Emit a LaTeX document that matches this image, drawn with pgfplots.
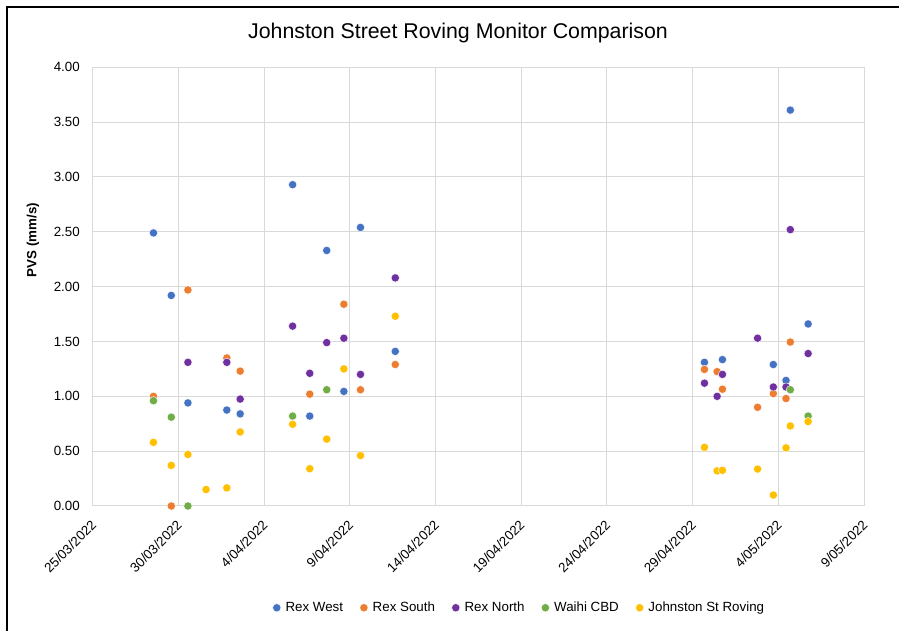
\documentclass[border=0pt]{standalone}
\usepackage{fontspec}
\setmainfont{Liberation Sans}
\usepackage{pgfplots}
\pgfplotsset{compat=1.18}
\definecolor{cblue}{HTML}{4472C4}
\definecolor{corange}{HTML}{ED7D31}
\definecolor{cpurple}{HTML}{7030A0}
\definecolor{cgreen}{HTML}{70AD47}
\definecolor{cyellow}{HTML}{FFC000}
\definecolor{gridc}{HTML}{D9D9D9}
\begin{document}
\begin{tikzpicture}
\useasboundingbox (0pt,0pt) rectangle (674.25pt,473.25pt);
\draw[line width=1.8pt] (5.25pt,-5pt) -- (5.25pt,468pt) -- (690pt,468pt);
\node[font=\fontsize{16}{19}\selectfont] at (343.5pt,448.5pt) {Johnston Street Roving Monitor Comparison};
\node[font=\fontsize{10}{12}\selectfont\bfseries, rotate=90] at (24.75pt,293.25pt) {PVS (mm/s)};
\begin{axis}[
  at={(69.6pt,93.75pt)}, anchor=south west,
  scale only axis, width=578.4pt, height=329pt,
  xmin=0, xmax=45, ymin=0, ymax=4,
  xtick={0,5,...,45},
  xticklabels={25/03/2022,30/03/2022,4/04/2022,9/04/2022,14/04/2022,19/04/2022,24/04/2022,29/04/2022,4/05/2022,9/05/2022},
  ytick={0,0.5,...,4},
  yticklabel style={/pgf/number format/fixed,/pgf/number format/precision=2,/pgf/number format/fixed zerofill, anchor=east, inner sep=0pt, xshift=-9.6pt},
  /pgf/number format/assume math mode=true,
  xticklabel style={inner sep=0pt, xshift=0.8pt, yshift=-12.5pt, rotate=45, anchor=east},
  tick label style={font=\fontsize{10}{12}\selectfont},
  major tick length=0pt,
  grid=major, major grid style={draw=gridc, line width=0.75pt},
  axis line style={draw=gridc, line width=0.75pt},
  clip=false,
  legend columns=5,
  legend style={draw=none, fill=none, font=\fontsize{10}{12}\selectfont, at={(0.554,-0.232)}, anchor=center,
    /tikz/every odd column/.style={column sep=1pt},
    /tikz/every even column/.style={column sep=10pt},
    nodes={inner sep=2.5pt}},
  legend image code/.code={\draw[mark repeat=2,mark phase=2,#1] plot coordinates {(0pt,0pt) (3pt,0pt) (6pt,0pt)};},
  every axis plot/.append style={only marks, mark=*, mark size=3.1pt},
]
\addplot[mark options={fill=cblue, draw=white, line width=0.3pt}] coordinates {
(3.54,2.49) (4.58,1.92) (5.55,0.94) (7.82,0.875) (8.60,0.84) (11.66,2.93) (12.66,0.82) (13.65,2.33) (14.65,1.045) (15.62,2.54) (17.65,1.41) (35.69,1.31) (36.74,1.335) (39.71,1.29) (40.45,1.145) (40.70,3.61) (41.74,1.66)};
\addlegendentry{Rex West}
\addplot[mark options={fill=corange, draw=white, line width=0.3pt}] coordinates {
(3.54,1.00) (4.58,0.00) (5.55,1.97) (7.82,1.35) (8.60,1.23) (12.66,1.02) (14.65,1.84) (15.62,1.06) (17.65,1.29) (35.69,1.245) (36.43,1.225) (36.74,1.065) (38.79,0.90) (39.71,1.025) (40.45,0.98) (40.70,1.495)};
\addlegendentry{Rex South}
\addplot[mark options={fill=cpurple, draw=white, line width=0.3pt}] coordinates {
(5.55,1.31) (7.82,1.31) (8.60,0.975) (11.66,1.64) (12.66,1.21) (13.65,1.49) (14.65,1.53) (15.62,1.20) (17.65,2.08) (35.69,1.12) (36.43,1.00) (36.74,1.20) (38.79,1.53) (39.71,1.085) (40.45,1.085) (40.70,2.52) (41.74,1.39)};
\addlegendentry{Rex North}
\addplot[mark options={fill=cgreen, draw=white, line width=0.3pt}] coordinates {
(3.54,0.96) (4.58,0.81) (5.55,0.00) (11.66,0.82) (13.65,1.06) (40.70,1.06) (41.74,0.82)};
\addlegendentry{Waihi CBD}
\addplot[mark options={fill=cyellow, draw=white, line width=0.3pt}] coordinates {
(3.54,0.58) (4.58,0.37) (5.55,0.47) (6.61,0.15) (7.82,0.165) (8.60,0.675) (11.66,0.745) (12.66,0.34) (13.65,0.61) (14.65,1.25) (15.62,0.46) (17.65,1.73) (35.69,0.535) (36.43,0.32) (36.74,0.325) (38.79,0.337) (39.71,0.10) (40.45,0.53) (40.70,0.73) (41.74,0.77)};
\addlegendentry{Johnston St Roving}
\end{axis}
\end{tikzpicture}
\end{document}
